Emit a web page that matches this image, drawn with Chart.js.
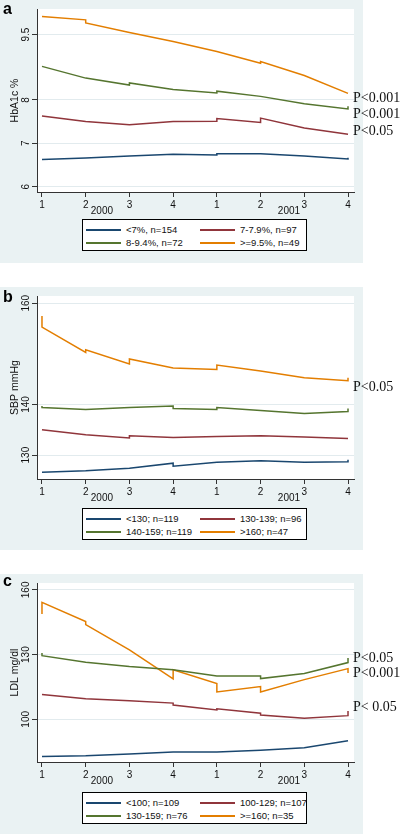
<!DOCTYPE html>
<html lang="en">
<head>
<meta charset="UTF-8">
<title>HbA1c, SBP and LDL by quarter</title>
<script src="https://cdn.jsdelivr.net/npm/chart.js"></script>
<style>
  body { margin: 0; background: #fff; font-family: "Liberation Sans", Arial, sans-serif; }
  #page { position: relative; width: 400px; height: 834px; overflow: hidden; }
  .panel { position: absolute; left: 0; width: 400px; }
  .bg { position: absolute; left: 0; top: 0; width: 363px; height: 100%; background: #eaf2f3; }
  .wrap { position: absolute; left: 0; top: 0; width: 400px; height: 100%; }
  .tag { position: absolute; left: 3px; font: bold 16px "Liberation Sans", Arial, sans-serif; color: #000; }
  .legend { position: absolute; left: 82px; width: 223px; height: 30px; border: 1px solid #000; background: #fff; }
  .item { position: absolute; height: 13px; display: flex; align-items: center; font-size: 9.5px; color: #111; white-space: nowrap; }
  .item span { display: inline-block; width: 35px; height: 2px; margin-right: 5px; }
</style>
</head>
<body>
<div id="page"></div>
<script>
// shared x axis: quarters of 2000 and 2001
const quarterTicks = [1, 2, 3, 4, 5, 6, 7, 8];
const quarterLabels = ['1', '2', '3', '4', '1', '2', '3', '4'];
const yearLabels = ['2000', '2001'];
const yearAt = [2.37, 6.65];
const seriesColors = ['#1a476f', '#90353b', '#55752f', '#e37e00'];

// panel a: HbA1c
const hbaTicks = [6, 7, 8, 9.5];
const hbaLabels = ['<7%, n=154', '7-7.9%, n=97', '8-9.4%, n=72', '>=9.5%, n=49'];
const hbaLow = [[1, 6.63], [2, 6.66], [3, 6.71], [4, 6.75], [5, 6.73], [5, 6.76], [6, 6.76], [7, 6.71], [8, 6.64], [8, 6.67]];
const hbaMid = [[1, 7.63], [2, 7.50], [3, 7.43], [4, 7.50], [5, 7.51], [5, 7.57], [6, 7.48], [6, 7.58], [7, 7.35], [8, 7.21]];
const hbaHigh = [[1, 8.77], [2, 8.50], [3, 8.34], [3, 8.39], [4, 8.24], [5, 8.16], [5, 8.20], [6, 8.08], [7, 7.91], [8, 7.79], [8, 7.85]];
const hbaTop = [[1, 9.92], [2, 9.84], [2, 9.77], [3, 9.55], [4, 9.34], [5, 9.11], [6, 8.84], [6, 8.88], [7, 8.56], [8, 8.15]];
const hbaPText = ['P<0.001', 'P<0.001', 'P<0.05'];
const hbaPAt = [8.03, 7.66, 7.27];

// panel b: SBP
const sbpTicks = [130, 140, 160];
const sbpLabels = ['<130; n=119', '130-139; n=96', '140-159; n=119', '>160; n=47'];
const sbpLow = [[1, 126.6], [2, 126.9], [3, 127.4], [4, 128.4], [4, 127.8], [5, 128.6], [6, 128.9], [7, 128.6], [8, 128.7], [8, 129.1]];
const sbpMid = [[1, 135.0], [2, 134.0], [3, 133.4], [3, 133.8], [4, 133.5], [5, 133.7], [6, 133.8], [7, 133.6], [8, 133.3]];
const sbpHigh = [[1, 139.7], [1, 139.4], [2, 139.0], [3, 139.4], [4, 139.7], [4, 139.2], [5, 139.0], [5, 139.4], [6, 138.8], [7, 138.2], [8, 138.6], [8, 139.2]];
const sbpTop = [[1, 157.5], [1, 155.3], [2, 150.3], [2, 150.8], [3, 148.0], [3, 149.0], [4, 147.2], [5, 146.9], [5, 147.8], [6, 146.6], [7, 145.3], [8, 144.7], [8, 145.3]];
const sbpPText = ['P<0.05'];
const sbpPAt = [143.4];

// panel c: LDL
const ldlTicks = [100, 130, 160];
const ldlLabels = ['<100; n=109', '100-129; n=107', '130-159; n=76', '>=160; n=35'];
const ldlLow = [[1, 82.8], [2, 83.1], [3, 83.9], [4, 84.8], [5, 84.8], [6, 85.7], [7, 86.8], [8, 90.1]];
const ldlMid = [[1, 111.5], [2, 109.5], [3, 108.6], [4, 107.5], [4, 106.6], [5, 104.3], [5, 104.9], [6, 102.8], [6, 102.0], [7, 100.5], [8, 101.7], [8, 103.8]];
const ldlHigh = [[1, 130.7], [1, 129.5], [2, 126.5], [3, 124.5], [4, 123.0], [5, 120.1], [6, 120.1], [6, 118.9], [7, 121.2], [8, 126.3], [8, 128.4]];
const ldlTop = [[1, 148.8], [1, 154.2], [2, 145.3], [2, 143.9], [3, 132.2], [4, 118.7], [4, 123.0], [5, 116.6], [5, 112.7], [6, 115.2], [6, 112.7], [7, 118.4], [8, 123.5], [8, 121.5]];
const ldlPText = ['P<0.05', 'P<0.001', 'P< 0.05'];
const ldlPAt = [128.2, 121.3, 105.6];

const panels = [
  { tag: 'a', top: 0, height: 263, tagTop: 0, xHeight: 71, legendTop: 219, yTitle: 'HbA1c %', yMin: 5.88, yMax: 10.09,
    yTicks: hbaTicks, labels: hbaLabels, series: [hbaLow, hbaMid, hbaHigh, hbaTop], pText: hbaPText, pAt: hbaPAt },
  { tag: 'b', top: 287, height: 263, tagTop: 1, xHeight: 71, legendTop: 221, yTitle: 'SBP mmHg', yMin: 125.28, yMax: 161.43,
    yTicks: sbpTicks, labels: sbpLabels, series: [sbpLow, sbpMid, sbpHigh, sbpTop], pText: sbpPText, pAt: sbpPAt },
  { tag: 'c', top: 574, height: 260, tagTop: -2, xHeight: 72, legendTop: 218, yTitle: 'LDL mg/dl', yMin: 80.2, yMax: 163.2,
    yTicks: ldlTicks, labels: ldlLabels, series: [ldlLow, ldlMid, ldlHigh, ldlTop], pText: ldlPText, pAt: ldlPAt }
];

// white plot region, rotated y labels, year row and p-values
const decorPlugin = {
  id: 'decor',
  beforeDraw(chart) {
    const a = chart.chartArea, ctx = chart.ctx;
    ctx.save();
    ctx.fillStyle = '#fff';
    ctx.fillRect(a.left, a.top, a.right - a.left, a.bottom - a.top);
    ctx.restore();
  },
  afterDraw(chart, args, opts) {
    const ctx = chart.ctx, a = chart.chartArea, x = chart.scales.x, y = chart.scales.y;
    ctx.save();
    ctx.fillStyle = '#111';
    ctx.font = '10px "Liberation Sans", Arial, sans-serif';
    ctx.textAlign = 'center';
    ctx.textBaseline = 'middle';
    opts.yTicks.forEach(v => {
      ctx.save();
      ctx.translate(26, y.getPixelForValue(v));
      ctx.rotate(-Math.PI / 2);
      ctx.fillText(String(v), 0, 0);
      ctx.restore();
    });
    yearLabels.forEach((t, i) => ctx.fillText(t, x.getPixelForValue(yearAt[i]), a.bottom + 19));
    ctx.font = '14px "Liberation Serif", "Times New Roman", serif';
    ctx.textAlign = 'left';
    opts.pText.forEach((t, i) => ctx.fillText(t, a.right - 1, y.getPixelForValue(opts.pAt[i])));
    ctx.restore();
  }
};

const page = document.getElementById('page');

panels.forEach(p => {
  const panel = document.createElement('div');
  panel.className = 'panel';
  panel.style.top = p.top + 'px';
  panel.style.height = p.height + 'px';
  panel.innerHTML = '<div class="bg"></div><div class="wrap"><canvas></canvas></div>';
  page.appendChild(panel);

  const chart = new Chart(panel.querySelector('canvas'), {
    type: 'line',
    data: {
      datasets: p.series.map((s, i) => ({
        label: p.labels[i],
        data: s.map(pt => ({ x: pt[0], y: pt[1] })),
        borderColor: seriesColors[i],
        borderWidth: 1.5,
        pointRadius: 0,
        tension: 0,
        fill: false
      }))
    },
    options: {
      responsive: true,
      maintainAspectRatio: false,
      animation: false,
      layout: { padding: { top: 8, right: 46, left: 0, bottom: 0 } },
      plugins: {
        legend: { display: false },
        tooltip: { enabled: false },
        decor: { yTicks: p.yTicks, pText: p.pText, pAt: p.pAt }
      },
      scales: {
        x: {
          type: 'linear',
          min: 0.886,
          max: 8.137,
          afterBuildTicks: s => { s.ticks = quarterTicks.map(v => ({ value: v })); },
          afterFit: s => { s.height = p.xHeight; },
          ticks: { callback: (v, i) => quarterLabels[i], font: { size: 10 }, color: '#111', padding: 2, maxRotation: 0 },
          grid: { drawOnChartArea: false, drawTicks: true, tickLength: 5, tickColor: '#333' },
          border: { color: '#333', width: 1 }
        },
        y: {
          min: p.yMin,
          max: p.yMax,
          afterBuildTicks: s => { s.ticks = p.yTicks.map(v => ({ value: v })); },
          afterFit: s => { s.width = 37; },
          ticks: { color: 'rgba(0,0,0,0)', font: { size: 10 } },
          grid: { color: '#e2ebee', lineWidth: 1, tickLength: 5, tickColor: '#333' },
          border: { color: '#333', width: 1 },
          title: { display: true, text: p.yTitle, font: { size: 10.5 }, color: '#111', padding: { top: 9, bottom: 0 } }
        }
      }
    },
    plugins: [decorPlugin]
  });

  const tag = document.createElement('div');
  tag.className = 'tag';
  tag.style.top = p.tagTop + 'px';
  tag.textContent = p.tag;
  panel.appendChild(tag);

  const legend = document.createElement('div');
  legend.className = 'legend';
  legend.style.top = p.legendTop + 'px';
  chart.data.datasets.forEach((ds, i) => {
    const item = document.createElement('div');
    item.className = 'item';
    item.style.left = (3 + (i % 2) * 114) + 'px';
    item.style.top = (3 + Math.floor(i / 2) * 13) + 'px';
    item.innerHTML = '<span style="background:' + ds.borderColor + '"></span>' + ds.label;
    legend.appendChild(item);
  });
  panel.appendChild(legend);
});
</script>
</body>
</html>
